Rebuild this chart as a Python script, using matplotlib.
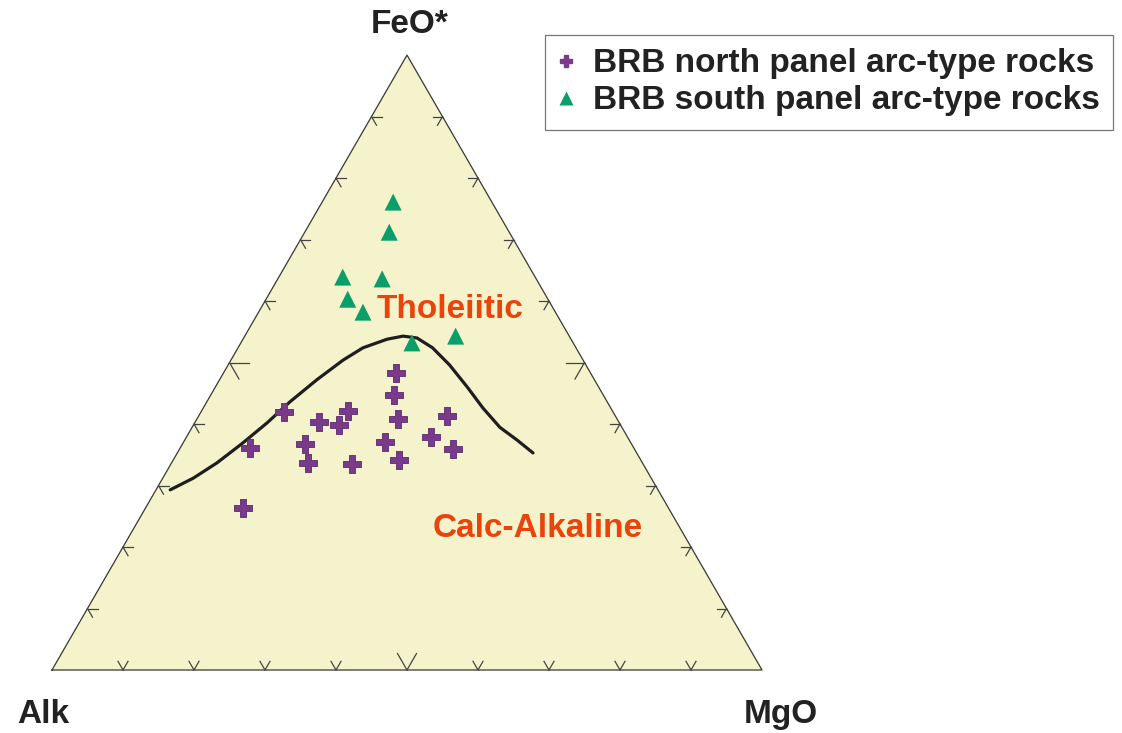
import numpy as np
import matplotlib.pyplot as plt
from matplotlib.lines import Line2D

# AFM compositions (Alk, FeO*, MgO) in percent
north_alk = [27.4, 29.5, 37.3, 46.3, 42.3, 39.7, 30.9, 23.7, 27.7, 34.6, 46.0, 54.1, 25.6, 47.1, 41.0, 34.1, 60.0]
north_feo = [48.3, 44.7, 42.1, 42.0, 40.3, 39.8, 40.8, 41.3, 37.9, 37.1, 36.7, 36.1, 35.9, 33.7, 33.5, 34.1, 26.3]
north_mgo = [24.3, 25.8, 20.6, 11.7, 17.4, 20.5, 28.3, 35.0, 34.4, 28.3, 17.3, 9.8, 38.5, 19.2, 25.5, 31.8, 13.7]

south_alk = [13.9, 16.9, 27.1, 21.7, 28.2, 27.1, 16.0, 22.7]
south_feo = [76.1, 71.2, 63.9, 63.6, 60.3, 58.2, 54.3, 53.2]
south_mgo = [10.0, 11.9, 9.0, 14.7, 11.5, 14.7, 29.7, 24.1]

# Irvine & Baragar tholeiitic / calc-alkaline boundary
line_alk = [68.7, 64.5, 59.9, 54.7, 49.6, 44.7, 39.1, 33.8, 30.0, 25.9, 23.4, 21.6, 20.2, 19.2, 18.5, 18.0, 17.2, 15.8, 14.6]
line_feo = [29.3, 31.2, 33.7, 36.9, 40.2, 43.6, 47.2, 50.4, 52.4, 53.8, 54.3, 54.0, 52.4, 49.6, 46.0, 42.6, 39.5, 37.4, 35.3]
line_mgo = [2.0, 4.3, 6.4, 8.4, 10.2, 11.7, 13.7, 15.8, 17.6, 20.3, 22.3, 24.4, 27.4, 31.2, 35.5, 39.4, 43.4, 46.8, 50.1]

tick_fracs = [0.1, 0.2, 0.3, 0.4, 0.5, 0.6, 0.7, 0.8, 0.9]

S3 = np.sqrt(3) / 2


def tern(a, f, m):
    a, f, m = np.asarray(a, float), np.asarray(f, float), np.asarray(m, float)
    s = a + f + m
    return (m + f / 2) / s, f * S3 / s


fig = plt.figure(figsize=(11.22, 7.33), dpi=100)
ax = fig.add_axes([0, 0, 1, 1])
ax.set_xlim(-52 / 710, 1070 / 710)
ax.set_ylim(-63 / 710, 670 / 710)
ax.axis('off')

# triangle
tx, ty = tern([1, 0, 0, 1], [0, 0, 1, 0], [0, 1, 0, 0])
ax.fill(tx, ty, color='#f5f3cc', zorder=0)
ax.plot(tx, ty, color='#3a3a3a', lw=0.9, zorder=1)

# ticks: two short arms along the other grid directions
tick_col = '#444444'
for t in tick_fracs:
    L = (19 if t == 0.5 else 10) / 710
    # bottom edge
    x0, y0 = tern(1 - t, 0, t)
    for ang in (60, 120):
        ax.plot([x0, x0 + L * np.cos(np.radians(ang))], [y0, y0 + L * np.sin(np.radians(ang))],
                color=tick_col, lw=0.9, zorder=1)
    # left edge
    x0, y0 = tern(1 - t, t, 0)
    for ang in (0, -60):
        ax.plot([x0, x0 + L * np.cos(np.radians(ang))], [y0, y0 + L * np.sin(np.radians(ang))],
                color=tick_col, lw=0.9, zorder=1)
    # right edge
    x0, y0 = tern(0, t, 1 - t)
    for ang in (180, 240):
        ax.plot([x0, x0 + L * np.cos(np.radians(ang))], [y0, y0 + L * np.sin(np.radians(ang))],
                color=tick_col, lw=0.9, zorder=1)

# boundary curve
lx, ly = tern(line_alk, line_feo, line_mgo)
ax.plot(lx, ly, color='#1e1e1e', lw=2.3, zorder=2, solid_capstyle='round', solid_joinstyle='round')

# data
purple = '#7a3a8c'
green = '#0a9e68'
nx, ny = tern(north_alk, north_feo, north_mgo)
ax.scatter(nx, ny, marker='P', s=150, color=purple, edgecolor='#5a2a70', linewidth=0.6, zorder=3)
sx, sy = tern(south_alk, south_feo, south_mgo)
ax.scatter(sx, sy, marker='^', s=150, color=green, edgecolor='none', zorder=3)

# labels
font = dict(family='Liberation Sans', weight='bold', fontsize=24)
fig.text(410 / 1122, 1 - 33 / 733, 'FeO*', ha='center', va='baseline', color='#222222', **font)
fig.text(43 / 1122, 1 - 723 / 733, 'Alk', ha='center', va='baseline', color='#222222', **font)
fig.text(781 / 1122, 1 - 723 / 733, 'MgO', ha='center', va='baseline', color='#222222', **font)
fig.text(450 / 1122, 1 - 318 / 733, 'Tholeiitic', ha='center', va='baseline', color='#e8440c', **font)
fig.text(538 / 1122, 1 - 537 / 733, 'Calc-Alkaline', ha='center', va='baseline', color='#e8440c', **font)

handles = [
    Line2D([], [], marker='P', ls='none', color=purple, markersize=9),
    Line2D([], [], marker='^', ls='none', color=green, markeredgecolor='none', markersize=10),
]
leg = ax.legend(handles, ['BRB north panel arc-type rocks', 'BRB south panel arc-type rocks'],
                loc='upper right', bbox_to_anchor=(1113 / 1122, 1 - 35 / 733), bbox_transform=fig.transFigure,
                borderaxespad=0, fancybox=False, handlelength=0.48, handletextpad=0.55, labelspacing=0.18,
                borderpad=0.4, prop=dict(family='Liberation Sans', weight='bold', size=24))
leg.get_frame().set_edgecolor('#555555')
leg.get_frame().set_linewidth(0.9)
for txt in leg.get_texts():
    txt.set_color('#222222')

fig.savefig('out.png', dpi=100)
